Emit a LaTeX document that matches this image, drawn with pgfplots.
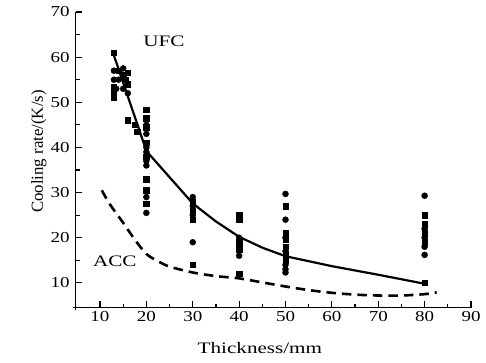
\documentclass[border=0pt]{standalone}
\usepackage{fontspec}
\setmainfont{Liberation Serif}[FakeStretch=1.25]
\newfontfamily\ylabfont{Liberation Serif}
\newfontfamily\xlabfont{Liberation Serif}[FakeStretch=1.32]
\usepackage{pgfplots}
\pgfplotsset{compat=1.18}

\pgfplotstableread{
x y
13 61
13 52
13 51
13 53.5
14 57
15 56
15.5 55
16 56.5
16 54
16 46
17.5 45
18 43.5
20 48.3
20 46.5
20 44.5
20 41
20 38
20 33
20 30.5
20 27.5
30 28
30 26
30 24
30 14
40 25
40 24
40 19
40 17.5
40 12
50 27
50 21
50 19.5
50 18
50 16.5
50 15
80 25
80 23
80 21
80 19
80 10
}\squares

\pgfplotstableread{
x y
13 57
13 55
13.5 53
14 55
15 57.5
15 53
16 52
20 45
20 43
20 40
20 39
20 37
20 36
20 29
20 25.5
30 29
30 27
30 25
30 19
40 20
40 18
40 16
50 29.7
50 24
50 20
50 17
50 14
50 13
50 12.3
80 29.3
80 22
80 20
80 18
80 16.2
}\circles

\pgfplotstableread{
x y
12.8 61
16 51.3
18 45.3
20 39.2
30 27.6
35 23.6
40 20.2
45 17.8
50 15.9
60 13.7
70 11.8
80 9.8
}\ufc

\pgfplotstableread{
x y
10.4 30.5
12 27.6
15 23.3
17.5 19.6
20 16.4
22.5 14.8
25 13.6
30 12.3
35 11.5
40 11.0
45 10.1
50 9.2
55 8.4
60 7.8
65 7.4
70 7.2
75 7.2
80 7.5
82.6 7.9
}\acc

\begin{document}
\begin{tikzpicture}
\begin{axis}[
  name=ax,
  scale only axis,
  width=395.3pt, height=295.7pt,
  xmin=4.76, xmax=90, ymin=4.5, ymax=70,
  axis x line*=bottom, axis y line*=left,
  axis line style={line width=1.3pt, shorten <=-2.5pt},
  every tick/.style={black, line width=1.2pt},
  tick align=inside,
  major tick length=6.5pt, minor tick length=4pt,
  xtick={10,20,...,90}, ytick={10,20,...,70},
  minor x tick num=1, minor y tick num=1,
  /pgf/number format/assume math mode=true,
  tick label style={font=\fontsize{15.2}{16}\selectfont},
  yticklabel style={xshift=-2.5pt},
  xlabel={Thickness/mm},
  ylabel={Cooling rate/(K/s)},
  xlabel style={font=\xlabfont\fontsize{16}{18}\selectfont, at={(axis description cs:0.466,-0.136)}, anchor=center},
  ylabel style={font=\ylabfont\fontsize{16.8}{18}\selectfont, at={(axis description cs:-0.093,0.528)}, anchor=center},
  clip=false,
]
\addplot[black, line width=2.2pt] table[x=x,y=y] {\ufc};
\addplot[black, line width=2.6pt, dash pattern=on 9.5pt off 6pt, smooth] table[x=x,y=y] {\acc};
\addplot[only marks, mark=square*, mark size=2.7pt, black] table[x=x,y=y] {\squares};
\addplot[only marks, mark=*, mark size=3pt, black] table[x=x,y=y] {\circles};
\node[font=\xlabfont\fontsize{16}{18}\selectfont] at (axis cs:23.8,63.5) {UFC};
\node[font=\xlabfont\fontsize{16}{18}\selectfont] at (axis cs:13.2,14.7) {ACC};
\end{axis}
\pgfresetboundingbox
\path ([shift={(-75.7pt,-55.3pt)}]ax.south west) rectangle ([shift={(410.3pt,307.7pt)}]ax.south west);
\end{tikzpicture}
\end{document}
